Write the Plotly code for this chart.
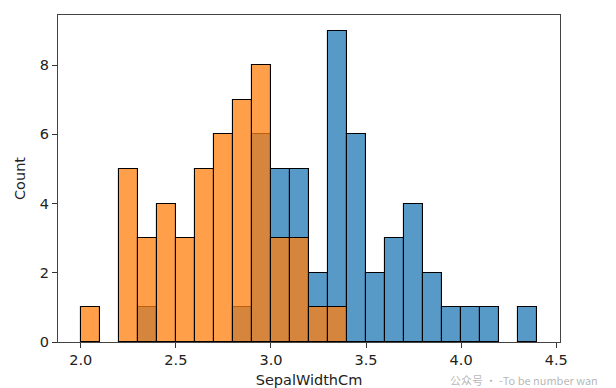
import plotly.graph_objects as go

# bin left edges (width 0.1) from 2.0 to 4.3
bin_starts = [2.0, 2.1, 2.2, 2.3, 2.4, 2.5, 2.6, 2.7, 2.8, 2.9, 3.0, 3.1,
              3.2, 3.3, 3.4, 3.5, 3.6, 3.7, 3.8, 3.9, 4.0, 4.1, 4.2, 4.3]
bin_width = 0.1

setosa_counts = [0, 0, 0, 1, 0, 0, 0, 0, 1, 6, 5, 5,
                 2, 9, 6, 2, 3, 4, 2, 1, 1, 1, 0, 1]
versicolor_counts = [1, 0, 5, 3, 4, 3, 5, 6, 7, 8, 3, 3,
                     1, 1, 0, 0, 0, 0, 0, 0, 0, 0, 0, 0]

x_ticks = [2.0, 2.5, 3.0, 3.5, 4.0, 4.5]
y_ticks = [0, 2, 4, 6, 8]

centers = [b + bin_width / 2 for b in bin_starts]

def bars(counts, color):
    xs = [c for c, n in zip(centers, counts) if n > 0]
    ys = [n for n in counts if n > 0]
    return go.Bar(x=xs, y=ys, width=bin_width,
                  marker=dict(color=color, line=dict(color="black", width=1.1)),
                  showlegend=False, hoverinfo="x+y")

fig = go.Figure()
fig.add_trace(bars(setosa_counts, "rgba(31,119,180,0.75)"))
fig.add_trace(bars(versicolor_counts, "rgba(255,127,14,0.75)"))

axis_common = dict(showline=True, linecolor="#444", linewidth=1, mirror=True,
                   ticks="outside", ticklen=5, tickcolor="#333", tickwidth=1,
                   showgrid=False, zeroline=False, automargin=False,
                   tickfont=dict(family="DejaVu Sans", size=14.5, color="#222"))

# page body has an 8px default margin, so the figure is sized to fit the window
fig.update_layout(
    width=608, height=380,
    margin=dict(l=50, r=56, t=7, b=46),
    paper_bgcolor="white", plot_bgcolor="white",
    barmode="overlay", bargap=0,
    font=dict(family="DejaVu Sans", size=14.5, color="#222"),
    xaxis=dict(range=[1.88, 4.52], tickvals=x_ticks,
               ticktext=[f"{v:.1f}" for v in x_ticks],
               title=dict(text="SepalWidthCm", standoff=7,
                          font=dict(family="DejaVu Sans", size=14.5)),
               **axis_common),
    yaxis=dict(range=[0, 9.45], tickvals=y_ticks,
               title=dict(text="Count", standoff=10,
                          font=dict(family="DejaVu Sans", size=14.5)),
               **axis_common),
)

fig.add_annotation(text="公众号 · -To be number wan", xref="paper", yref="paper",
                   x=1.08, y=-0.115, xanchor="right", yanchor="middle",
                   showarrow=False,
                   font=dict(family="Noto Sans CJK SC", size=11,
                             color="rgba(150,150,150,0.7)"))

fig.write_html("out.html")
